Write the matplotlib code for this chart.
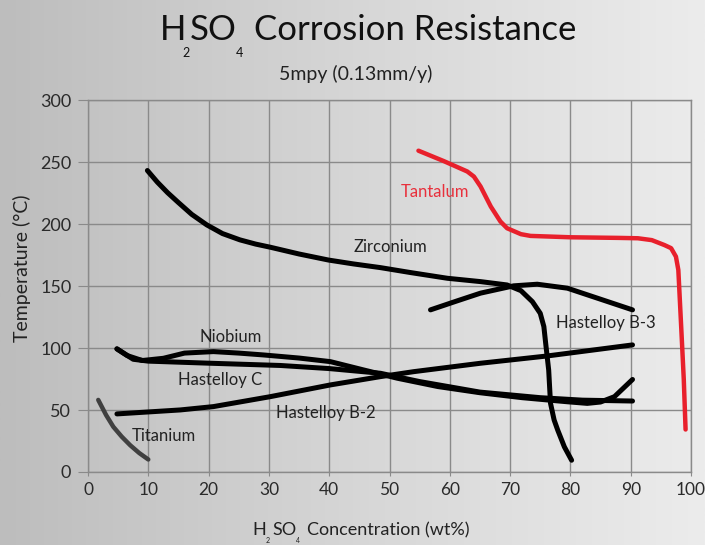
import numpy as np
import matplotlib.pyplot as plt
from matplotlib.colors import LinearSegmentedColormap

plt.rcParams['font.family'] = ['Lato', 'DejaVu Sans']

# ----- data -----
tantalum_x = [54.8, 59, 62.9, 64.0, 65.1, 66.8, 68.4, 69.5, 71.8, 73.4, 80, 88, 91.2, 93.5, 95.6, 96.7, 97.5, 97.9, 98.4, 98.8, 99.1]
tantalum_y = [259.4, 251, 242.6, 238.5, 230.5, 214.3, 202.2, 196.8, 192, 190.6, 189.5, 189, 188.7, 187.2, 183.2, 180.7, 173.9, 163.1, 114.6, 75, 34.3]

zirconium_x = [9.85, 11.5, 13.2, 15, 17.2, 19.7, 22.3, 25.2, 27.8, 30.2, 35, 39.9, 44, 48.5, 53.5, 59.6, 65.1, 69.5,
               71.8, 73.7, 75.0, 75.6, 75.9, 76.4, 76.7, 77.3, 77.9, 79.0, 80.2]
zirconium_y = [243.4, 234, 225.5, 217.5, 208, 199.5, 192.5, 187.4, 184, 181.5, 176, 171.1, 168, 165, 161, 156.4, 153.7, 151,
               146.4, 137.5, 128.1, 117.4, 103.9, 82.3, 55.5, 42, 33.8, 20.3, 9.5]

b3_x = [56.8, 61, 65.1, 70.6, 74.5, 79.5, 84.5, 90.3]
b3_y = [130.9, 137.8, 144.4, 150.3, 151.6, 148.4, 140.3, 130.9]

b2_x = [4.8, 15.3, 20.8, 30.2, 40.2, 48.5, 54, 65.1, 76.2, 90.3]
b2_y = [46.9, 50.1, 52.8, 60.8, 70.3, 77, 81, 87.8, 93.7, 102.6]

niobium_x = [4.8, 6.5, 9, 12.5, 16, 20.8, 25, 29.1, 35, 40.2, 45.7, 51.3, 58, 65, 72, 79.5, 82.8, 85, 87.3, 90.3]
niobium_y = [99.4, 94, 90, 91.8, 96, 97.2, 96, 94.5, 92, 89.1, 82.4, 75.7, 69, 64, 60, 56.7, 55.4, 56.5, 60.8, 74.7]

hastc_x = [4.8, 7.5, 10, 20.3, 31.9, 40, 48.5, 55, 65, 75, 82, 90.3]
hastc_y = [99.4, 91, 89.5, 87.8, 86, 83.5, 79.7, 73, 64.5, 60, 58, 57.3]

titanium_x = [1.7, 3, 4.2, 5.6, 7, 8.5, 10]
titanium_y = [58.2, 46, 36.5, 28.5, 21.6, 15.3, 10.1]

x_ticks = list(range(0, 101, 10))
y_ticks = list(range(0, 301, 50))

W, H = 705, 545
fig = plt.figure(figsize=(W / 100, H / 100), dpi=100)

# grey-to-light background
bg = fig.add_axes([0, 0, 1, 1], zorder=-10)
grad = np.linspace(0, 1, 256).reshape(1, -1)
cmap = LinearSegmentedColormap.from_list('bg', ['#bdbdbd', '#d6d6d6', '#ececec'])
bg.imshow(grad, aspect='auto', cmap=cmap, extent=[0, 1, 0, 1])
bg.axis('off')

def fx(px):
    return px / W

def fy(py):
    return 1 - py / H

ax = fig.add_axes([fx(88), fy(472), (691 - 88) / W, (472 - 100.4) / H])
ax.set_facecolor('none')
ax.set_xlim(0, 100)
ax.set_ylim(0, 300)
ax.set_xticks(x_ticks)
ax.set_yticks(y_ticks)
ax.grid(True, color='#8a8a8a', linewidth=1)
ax.set_axisbelow(True)
for s in ax.spines.values():
    s.set_color('#8a8a8a')
    s.set_linewidth(1)
ax.tick_params(axis='y', length=7, color='#8a8a8a', labelsize=13, pad=5, labelcolor='#2a2a2a')
ax.tick_params(axis='x', length=3, color='#8a8a8a', labelsize=12.5, pad=4, labelcolor='#2a2a2a')

lw = 3.6
style = dict(solid_capstyle='round', solid_joinstyle='round')
ax.plot(tantalum_x, tantalum_y, color='#e8202c', lw=3.2, **style)
ax.plot(zirconium_x, zirconium_y, color='black', lw=lw, **style)
ax.plot(b3_x, b3_y, color='black', lw=lw, **style)
ax.plot(b2_x, b2_y, color='black', lw=lw, **style)
ax.plot(niobium_x, niobium_y, color='black', lw=lw, **style)
ax.plot(hastc_x, hastc_y, color='black', lw=lw, **style)
ax.plot(titanium_x, titanium_y, color='#404040', lw=3.2, **style)

# curve labels
lab = dict(fontsize=12, ha='center', va='center', color='#222222')
ax.text(57.5, 226, 'Tantalum', **dict(lab, color='#e8303c'))
ax.text(50.2, 182, 'Zirconium', **lab)
ax.text(85.9, 120.5, 'Hastelloy B-3', **lab)
ax.text(23.7, 109, 'Niobium', **lab)
ax.text(21.9, 74, 'Hastelloy C', **lab)
ax.text(39.5, 47.7, 'Hastelloy B-2', **lab)
ax.text(12.6, 29, 'Titanium', **lab)

# title with loose subscripts
tc = '#111111'
tt = dict(fontsize=25, color=tc, va='baseline')
fig.text(fx(160), fy(40), 'H', **tt)
fig.text(fx(190), fy(40), 'SO', **tt)
fig.text(fx(254), fy(40), 'Corrosion Resistance', **tt)
fig.text(fx(186), fy(57), '2', fontsize=9, color=tc, ha='center', va='baseline')
fig.text(fx(239), fy(57), '4', fontsize=9, color=tc, ha='center', va='baseline')
fig.text(fx(356), fy(80), '5mpy (0.13mm/y)', fontsize=14, color='#222222', ha='center', va='baseline')

# x label
fig.text(fx(252), fy(535), 'H', fontsize=13, color='#222222', va='baseline')
fig.text(fx(272), fy(535), 'SO', fontsize=13, color='#222222', va='baseline')
fig.text(fx(307), fy(535), 'Concentration (wt%)', fontsize=13, color='#222222', va='baseline')
fig.text(fx(268), fy(537), '2', fontsize=5, color='#222222', ha='center', va='top')
fig.text(fx(298), fy(537), '4', fontsize=5, color='#222222', ha='center', va='top')

# y label
fig.text(fx(22), fy(268), 'Temperature (°C)', fontsize=14, color='#222222', rotation=90, ha='center', va='center')

fig.savefig('out.png', dpi=100)
